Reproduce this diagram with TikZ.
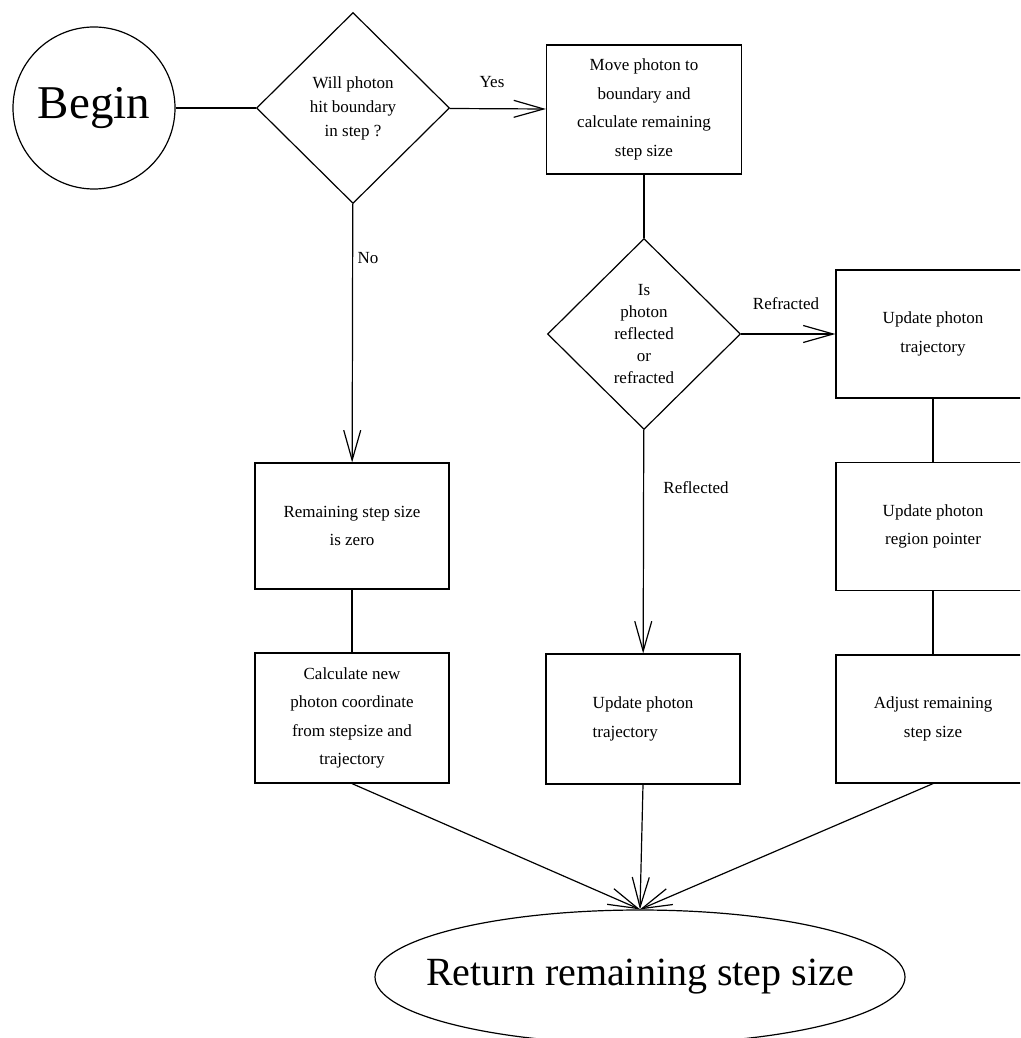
\documentclass[tikz,border=0pt]{standalone}
\usepackage{fontspec}
\setmainfont{Liberation Serif}
\usetikzlibrary{arrows.meta,shapes.geometric}

\begin{document}
\begin{tikzpicture}[
  x=1pt,y=-1pt,line width=1.2pt,
  bx/.style={rectangle,draw,minimum width=194pt,minimum height=128pt,inner sep=0pt,align=center,font=\fontsize{17}{28.5}\selectfont},
  dm/.style={diamond,draw,minimum width=193pt,minimum height=191pt,inner sep=0pt,align=center,font=\fontsize{17}{24}\selectfont},
  lbl/.style={font=\fontsize{17}{20}\selectfont},
  ar/.style={-{Straight Barb[length=30pt,width=17pt]}}
]
\useasboundingbox (0,0) rectangle (1020,1038);
\clip (0,0) rectangle (1020,1038);

% Start and first test
\node[circle,draw,minimum size=162pt,inner sep=0pt,font=\fontsize{47}{50}\selectfont] (begin) at (94,108) {Begin};
\node[dm] (will) at (353,108) {Will photon\\hit boundary\\in step ?};
\node[bx,minimum width=195pt,minimum height=129pt] (move) at (644,109.5) {Move photon to\\boundary and\\calculate remaining\\step size};
\node[lbl] (yes) at (492,82) {Yes};
\node[lbl] (no) at (368,258) {No};

% Second test
\node[dm,font=\fontsize{17}{22}\selectfont] (isrefl) at (644,334) {Is\\photon\\reflected\\or\\refracted};
\node[lbl] (refr) at (786,304) {Refracted};
\node[lbl] (refl) at (696,488) {Reflected};

% Left column: no hit
\node[bx,minimum height=126pt] (remain) at (352,526) {Remaining step size\\is zero};
\node[bx,minimum height=130pt] (calcnew) at (352,718) {Calculate new\\photon coordinate\\from stepsize and\\trajectory};

% Middle column: reflected
\node[bx,minimum height=130pt,align=left] (updrefl) at (643,719) {Update photon\\trajectory};

% Right column: refracted
\node[bx] (updtraj) at (933,334) {Update photon\\trajectory};
\node[bx] (region) at (933,526.5) {Update photon\\region pointer};
\node[bx] (adjust) at (933,719) {Adjust remaining\\step size};

% End
\node[ellipse,draw,minimum width=530pt,minimum height=134pt,inner sep=0pt,font=\fontsize{40}{44}\selectfont] (ret) at (640,977) {\makebox[0pt]{Return remaining step size}};

\draw (begin) -- (will);
\draw[ar] (will) -- (move);
\draw (move) -- (isrefl);
\draw[ar] (will) -- (remain);
\draw (remain) -- (calcnew);
\draw[ar] (isrefl) -- (updtraj);
\draw[ar] (isrefl) -- (updrefl);
\draw (updtraj) -- (region);
\draw (region) -- (adjust);
\draw[ar] (calcnew.south) -- (ret.north);
\draw[ar] (updrefl.south) -- (ret.north);
\draw[ar] (adjust.south) -- (ret.north);
\end{tikzpicture}
\end{document}
